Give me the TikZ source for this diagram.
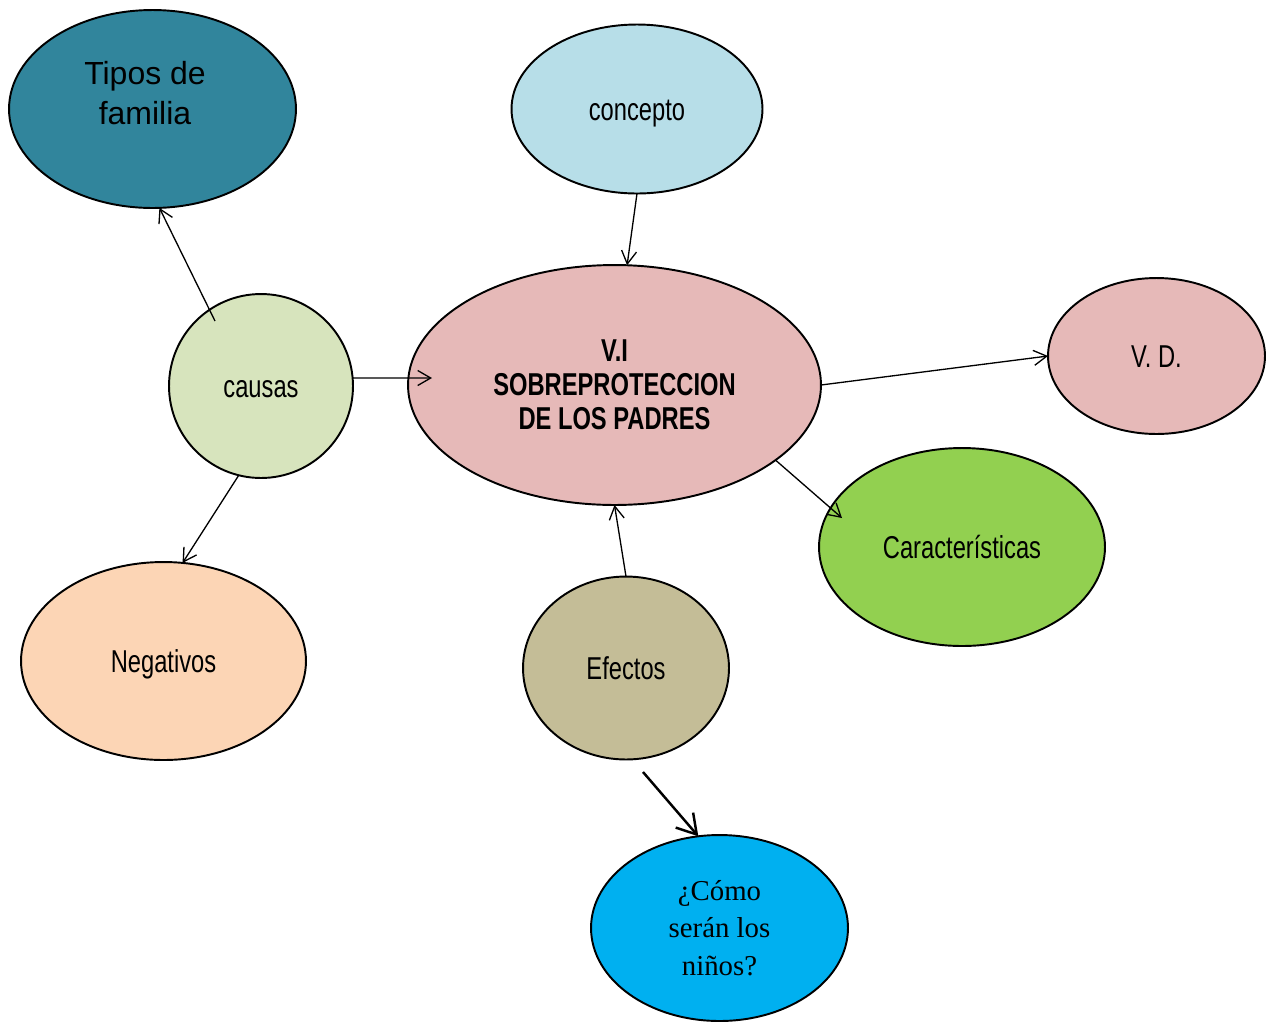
\documentclass[tikz,border=0pt]{standalone}
\usepackage{fontspec}
\setmainfont{Liberation Serif}
\newfontfamily\narrowsans[FakeStretch=0.75]{Liberation Sans}
\newfontfamily\arialf{Liberation Sans}
\usetikzlibrary{shapes.geometric,arrows.meta}
\definecolor{cTipos}{HTML}{31859C}
\definecolor{cConcepto}{HTML}{B7DEE8}
\definecolor{cRosa}{HTML}{E6B9B8}
\definecolor{cCausas}{HTML}{D7E4BD}
\definecolor{cNeg}{HTML}{FCD5B5}
\definecolor{cEfectos}{HTML}{C4BD97}
\definecolor{cKar}{HTML}{92D050}
\definecolor{cNinos}{HTML}{00B0F0}
\tikzset{
  bub/.style={ellipse, draw, line width=1.1pt, inner sep=0pt, outer sep=0pt, align=center,
    font=\narrowsans\fontsize{18}{19.3}\selectfont},
  oneline/.style={text height=13pt, text depth=0pt},
  arr/.style={-{Straight Barb[length=2.6mm,width=3mm]}, line width=0.75pt},
  bigarr/.style={-{Straight Barb[length=3.8mm,width=4.6mm]}, line width=1.4pt}
}
\begin{document}
\begin{tikzpicture}[x=0.02cm,y=-0.02cm]
\useasboundingbox (0,0) rectangle (1274,1022);
% nodes
\node[bub, fill=cTipos, minimum width=5.74cm, minimum height=3.96cm] (tipos) at (152.5,109) {};
\node[align=center, font=\arialf\fontsize{18.2}{22.7}\selectfont] (tiposT) at (145,93) {Tipos de\\familia};
\node[bub, oneline, fill=cConcepto, minimum width=5.02cm, minimum height=3.38cm] (concepto) at (637,109) {concepto};
\node[bub, fill=cRosa, minimum width=8.26cm, minimum height=4.80cm, font=\narrowsans\bfseries\fontsize{18}{19.3}\selectfont] (vi) at (614.5,385) {V.I\\SOBREPROTECCION\\DE LOS PADRES};
\node[bub, oneline, fill=cRosa, minimum width=4.34cm, minimum height=3.12cm] (vd) at (1156.5,356) {V. D.};
\node[bub, oneline, fill=cCausas, minimum width=3.68cm, minimum height=3.68cm] (causas) at (261,386) {causas};
\node[bub, oneline, fill=cNeg, minimum width=5.70cm, minimum height=3.96cm] (neg) at (163.5,661) {Negativos};
\node[bub, oneline, fill=cEfectos, minimum width=4.12cm, minimum height=3.66cm] (efectos) at (626,668) {Efectos};
\node[bub, oneline, fill=cKar, minimum width=5.72cm, minimum height=3.96cm] (kar) at (962,547) {Características};
\node[bub, fill=cNinos, minimum width=5.14cm, minimum height=3.72cm, font=\rmfamily\fontsize{16.4}{19.3}\selectfont] (ninos) at (719.5,928) {¿Cómo\\[2.2pt]serán los\\[2.2pt]niños?};
% free ends
\coordinate (c1) at (215,321);
\coordinate (c2) at (432,378);
\coordinate (c3) at (842,518);
\coordinate (c4) at (643,772);
% connectors
\draw[arr] (c1) -- (tipos.-86);
\draw[arr] (concepto.south) -- (vi.84.5);
\draw[arr] (causas.5) -- (c2);
\draw[arr] (vi.east) -- (vd.west);
\draw[arr] (vi.-25.9) -- (c3);
\draw[arr] (efectos.north) -- (vi.south);
\draw[arr] (causas.-104) -- (neg.79);
\draw[bigarr] (c4) -- (ninos.103);
\end{tikzpicture}
\end{document}
